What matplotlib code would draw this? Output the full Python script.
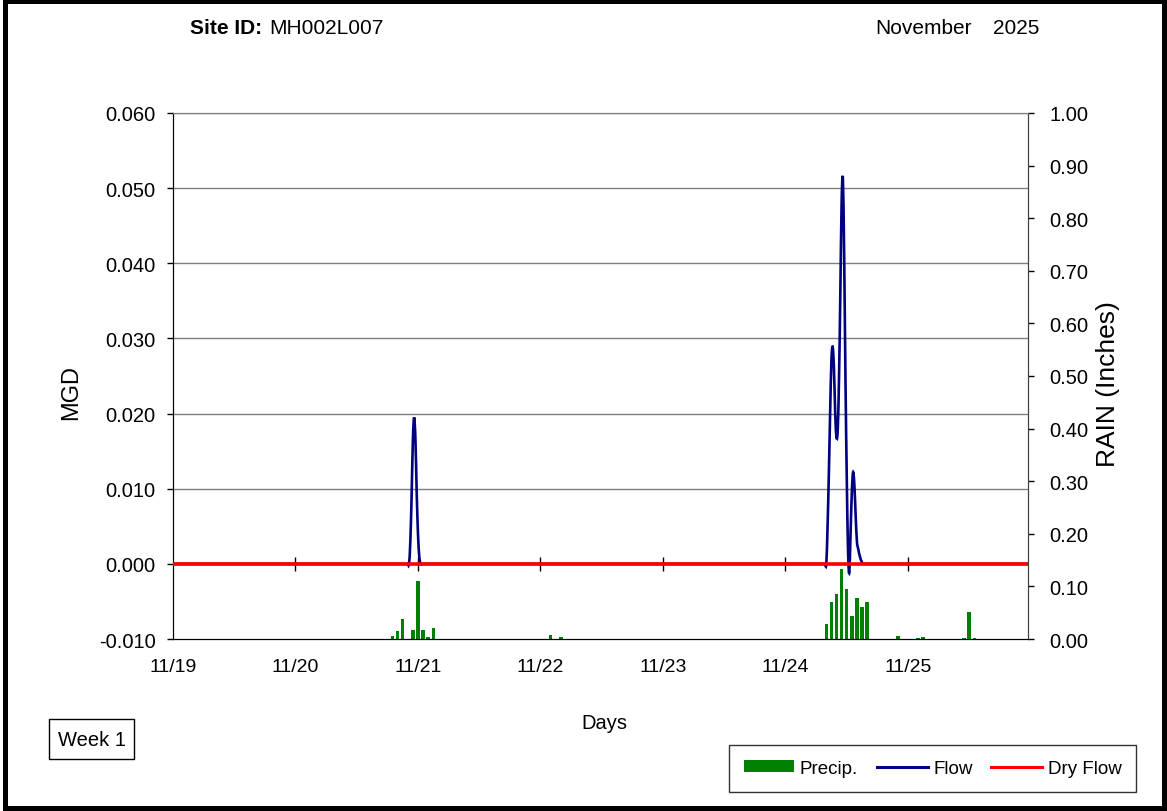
import numpy as np
import matplotlib
matplotlib.use('Agg')
import matplotlib.pyplot as plt
from matplotlib.path import Path
from matplotlib.patches import PathPatch, Rectangle, Patch
from matplotlib.lines import Line2D

plt.rcParams['font.family'] = ['Liberation Sans', 'DejaVu Sans']

# 15-minute steps, step 0 = 11/19 00:00
n_steps = 672
day_labels = ['11/19', '11/20', '11/21', '11/22', '11/23', '11/24', '11/25']

# flow (MGD), zero outside these steps
flow_steps = [186, 187, 188, 189, 190, 191, 192, 193,
              513, 514, 515, 516, 517, 518, 519, 520, 521, 522, 523, 524, 525, 526,
              527, 528, 529, 530, 531, 532, 533, 534, 535, 536, 537, 538, 539, 540]
flow_mgd = [0.003, 0.009, 0.0165, 0.0195, 0.0165, 0.0095, 0.004, 0.001,
            0.005, 0.012, 0.020, 0.027, 0.0289, 0.026, 0.020, 0.0168, 0.018, 0.025, 0.036, 0.048, 0.0513, 0.041,
            0.025, 0.012, 0.002, -0.0012, 0.004, 0.0095, 0.0122, 0.0105, 0.0065, 0.003, 0.002, 0.0012, 0.0006, 0.0002]

# dry flow (MGD)
dry_flow = np.zeros(n_steps)

# hourly precipitation (inches), hour 0 = 11/19 00:00
precip_hours = [43, 44, 45, 47, 48, 49, 50, 51, 74, 76,
                128, 129, 130, 131, 132, 133, 134, 135, 136,
                142, 146, 147, 155, 156, 157]
precip_in = [0.005, 0.015, 0.038, 0.017, 0.111, 0.017, 0.003, 0.020, 0.008, 0.003,
             0.028, 0.071, 0.085, 0.133, 0.095, 0.044, 0.077, 0.060, 0.071,
             0.005, 0.002, 0.003, 0.001, 0.051, 0.002]

flow = np.zeros(n_steps)
flow[flow_steps] = flow_mgd
days = np.arange(n_steps) / 96.0


def smooth_path(x, y):
    # excel-style smoothed line: cubic bezier through every point
    px = np.concatenate([[x[0]], x, [x[-1]]])
    py = np.concatenate([[y[0]], y, [y[-1]]])
    verts = [(x[0], y[0])]
    codes = [Path.MOVETO]
    for i in range(1, len(px) - 2):
        c1 = (px[i] + (px[i + 1] - px[i - 1]) / 6, py[i] + (py[i + 1] - py[i - 1]) / 6)
        c2 = (px[i + 1] - (px[i + 2] - px[i]) / 6, py[i + 1] - (py[i + 2] - py[i]) / 6)
        verts += [c1, c2, (px[i + 1], py[i + 1])]
        codes += [Path.CURVE4] * 3
    return Path(verts, codes)


W, H = 1167, 812
fig = plt.figure(figsize=(W / 100, H / 100), dpi=100)
ax = fig.add_axes([173 / W, 1 - 640 / H, (1028 - 173) / W, (640 - 114) / H])
ax2 = ax.twinx()
ax.set_zorder(ax2.get_zorder() + 1)
ax.patch.set_visible(False)

grid_col = '#7f7f7f'
navy = '#000080'

# precipitation bars on the right axis
ax2.bar(np.array(precip_hours) / 24.0, precip_in, width=0.7 / 24, color='#008000', zorder=2)
ax2.set_ylim(0, 1.0)
ax2.set_yticks(np.arange(0, 1.01, 0.1))
ax2.set_yticklabels(['%.2f' % v for v in np.arange(0, 1.01, 0.1)])

# flow lines on the left axis
ax.set_ylim(-0.010, 0.060)
ax.set_yticks(np.arange(-0.010, 0.0601, 0.010))
ax.set_yticklabels(['%.3f' % v for v in np.arange(-0.010, 0.0601, 0.010)])
for v in np.arange(0.0, 0.0601, 0.010):
    ax.axhline(v, color=grid_col, lw=1.0, zorder=1)

# ticks where the category axis crosses zero
ax.plot(np.arange(1, 7), np.zeros(6), ls='none', marker='|', ms=10, mew=1.0,
        color='black', zorder=2)
ax.add_patch(PathPatch(smooth_path(days, flow), fill=False, edgecolor=navy, lw=1.9, zorder=3))
ax.plot(days, dry_flow, color='#ff0000', lw=2.6, zorder=4)

ax.set_xlim(0, 6.98)
ax.set_xticks(np.arange(len(day_labels)))
ax.set_xticklabels(day_labels)

ax.tick_params(axis='x', length=0, pad=14, labelsize=14)
ax.tick_params(axis='y', direction='out', length=4.5, width=1, pad=8, labelsize=14.5)
ax2.tick_params(axis='y', direction='out', length=4.5, width=1, pad=11, labelsize=14.5)

for a in (ax, ax2):
    a.spines['top'].set_color(grid_col)
    a.spines['left'].set_color('black')
    a.spines['bottom'].set_color('black')
    a.spines['right'].set_color('#404040')

# axis titles
fig.text(71 / W, 1 - 392 / H, 'MGD', rotation=90, ha='center', va='center', fontsize=17)
fig.text(1108 / W, 1 - 384 / H, 'RAIN (Inches)', rotation=90, ha='center', va='center',
         fontsize=19)
fig.text(604 / W, 1 - 724 / H, 'Days', ha='center', va='center', fontsize=14.5)

# header
fig.text(190 / W, 1 - 28 / H, 'Site ID:', ha='left', va='center', fontsize=15, fontweight='bold')
fig.text(269 / W, 1 - 28 / H, 'MH002L007', ha='left', va='center', fontsize=15)
fig.text(875 / W, 1 - 28 / H, 'November', ha='left', va='center', fontsize=15)
fig.text(993 / W, 1 - 28 / H, '2025', ha='left', va='center', fontsize=15)

# week box
fig.patches.append(Rectangle((49 / W, 1 - 760 / H), 85 / W, 40 / H, transform=fig.transFigure,
                             fill=False, edgecolor='black', lw=1.0))
fig.text(91.5 / W, 1 - 741 / H, 'Week 1', ha='center', va='center', fontsize=14.5)

# legend
handles = [Patch(facecolor='#008000', edgecolor='none'),
           Line2D([], [], color=navy, lw=2.2),
           Line2D([], [], color='#ff0000', lw=2.2)]
leg = fig.legend(handles, ['Precip.', 'Flow', 'Dry Flow'], ncol=3, loc='center',
                 bbox_to_anchor=(932.5 / W, 1 - 769.5 / H), fontsize=13.5, frameon=True,
                 fancybox=False, edgecolor='black', handlelength=2.7, handleheight=0.6,
                 handletextpad=0.3, columnspacing=1.0, borderpad=0.8, borderaxespad=0)
leg.get_frame().set_linewidth(1.0)

# outer frame
fig.patches.append(Rectangle((5 / W, 3 / H), 1159 / W, 807 / H, transform=fig.transFigure,
                             fill=False, edgecolor='black', lw=3.6))

fig.savefig('out.png', dpi=100)
